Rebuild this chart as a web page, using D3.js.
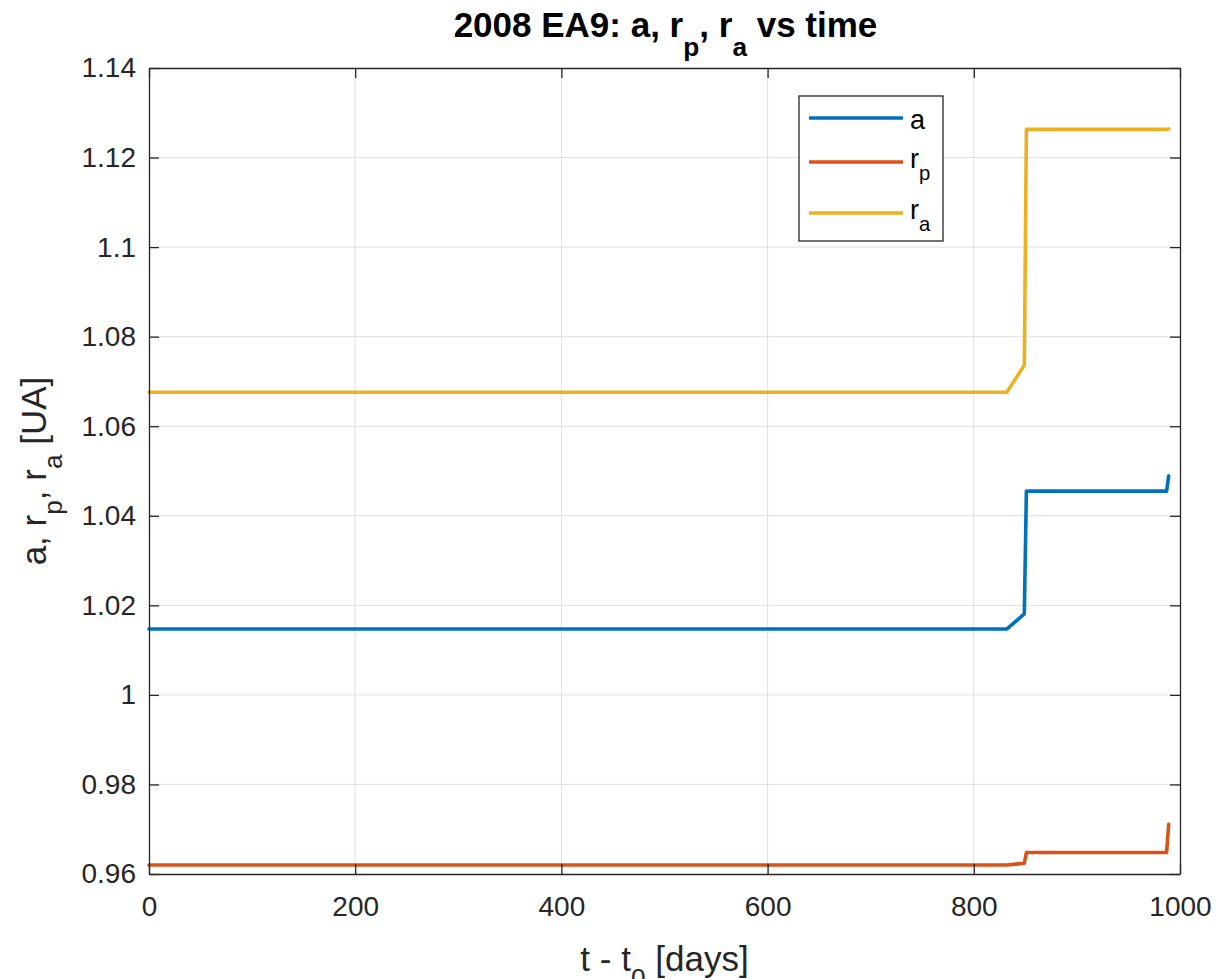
<!DOCTYPE html>
<html>
<head>
<meta charset="utf-8">
<script src="https://cdn.jsdelivr.net/npm/d3@7"></script>
<style>
  body { margin: 0; background: #fff; }
  svg text { font-family: "Liberation Sans", Arial, sans-serif; }
</style>
</head>
<body>
<div id="chart"></div>
<script>
const width = 1225;
const height = 979;

// time samples (days since t0) shared by the three curves
const tDays = [0, 832, 849, 851, 987, 989];
// semi-major axis, perihelion, aphelion [UA]
const aVals  = [1.0147, 1.0147, 1.0181, 1.0455, 1.0455, 1.0489];
const rpVals = [0.9620, 0.9620, 0.9624, 0.9648, 0.9648, 0.9711];
const raVals = [1.0676, 1.0676, 1.0736, 1.1263, 1.1263, 1.1264];

const seriesNames = ["a", "r", "r"];
const seriesSubs = ["", "p", "a"];
const seriesColors = ["#0072BD", "#D95319", "#EDB120"];

const xTicks = [0, 200, 400, 600, 800, 1000];
const yTicks = [0.96, 0.98, 1, 1.02, 1.04, 1.06, 1.08, 1.1, 1.12, 1.14];

const margin = { left: 149, right: 1180, top: 68, bottom: 874 };

let svg = d3.select("#chart").append("svg")
    .attr("width", width)
    .attr("height", height);

let x = d3.scaleLinear().domain([0, 1000]).range([margin.left, margin.right]);
let y = d3.scaleLinear().domain([0.96, 1.14]).range([margin.bottom, margin.top]);

// grid
let grid = svg.append("g");
grid.selectAll(".gx").data(xTicks.slice(1, -1)).enter().append("line")
    .attr("x1", d => x(d)).attr("x2", d => x(d))
    .attr("y1", margin.top).attr("y2", margin.bottom)
    .attr("stroke", "#dfdfdf").attr("stroke-width", 1);
grid.selectAll(".gy").data(yTicks.slice(1, -1)).enter().append("line")
    .attr("x1", margin.left).attr("x2", margin.right)
    .attr("y1", d => y(d)).attr("y2", d => y(d))
    .attr("stroke", "#dfdfdf").attr("stroke-width", 1);

// curves
let line = d3.line().x(d => x(d[0])).y(d => y(d[1]));
[aVals, rpVals, raVals].forEach(function (vals, i) {
    svg.append("path")
        .datum(tDays.map((t, k) => [t, vals[k]]))
        .attr("d", line)
        .attr("fill", "none")
        .attr("stroke", seriesColors[i])
        .attr("stroke-width", 3.6)
        .attr("stroke-linejoin", "round")
        .attr("stroke-linecap", "round");
});

// axes (MATLAB style: ticks inward, box on)
let tickLen = 10;
let xAxisB = d3.axisBottom(x).tickValues(xTicks).tickSizeInner(-tickLen).tickSizeOuter(0).tickPadding(22)
    .tickFormat(d3.format("d"));
let xAxisT = d3.axisTop(x).tickValues(xTicks).tickSizeInner(-tickLen).tickSizeOuter(0).tickFormat("");
let yAxisL = d3.axisLeft(y).tickValues(yTicks).tickSizeInner(-tickLen).tickSizeOuter(0).tickPadding(13)
    .tickFormat(d => String(+d.toFixed(2)));
let yAxisR = d3.axisRight(y).tickValues(yTicks).tickSizeInner(-tickLen).tickSizeOuter(0).tickFormat("");

function styleAxis(g) {
    g.select(".domain").attr("stroke", "#262626").attr("stroke-width", 1.3);
    g.selectAll(".tick line").attr("stroke", "#262626").attr("stroke-width", 1.3);
    g.selectAll(".tick text").attr("font-size", 28).attr("fill", "#262626")
        .attr("font-family", "Liberation Sans, Arial, sans-serif");
}

svg.append("g").attr("transform", `translate(0,${margin.bottom})`).call(xAxisB).call(styleAxis);
svg.append("g").attr("transform", `translate(0,${margin.top})`).call(xAxisT).call(styleAxis);
svg.append("g").attr("transform", `translate(${margin.left},0)`).call(yAxisL).call(styleAxis);
svg.append("g").attr("transform", `translate(${margin.right},0)`).call(yAxisR).call(styleAxis);

// text with TeX-like subscripts: the tspan after a subscript moves back up
function addSub(textSel, parts, size, shift) {
    let back = 0;
    parts.forEach(function (p) {
        let ts = textSel.append("tspan").text(p.t);
        if (p.sub) {
            ts.attr("font-size", size * 0.75).attr("dy", size * shift + back);
            back = -size * shift;
        } else {
            if (back) ts.attr("dy", back);
            back = 0;
        }
    });
}

// title
let title = svg.append("text")
    .attr("x", (margin.left + margin.right) / 2 + 1)
    .attr("y", 37)
    .attr("text-anchor", "middle")
    .attr("font-size", 35)
    .attr("font-weight", "bold")
    .attr("fill", "#000");
addSub(title, [{t: "2008 EA9: a, r"}, {t: "p", sub: true}, {t: ", r"}, {t: "a", sub: true}, {t: " vs time"}], 35, 0.55);

// x label
let xLabel = svg.append("text")
    .attr("x", (margin.left + margin.right) / 2)
    .attr("y", 971)
    .attr("text-anchor", "middle")
    .attr("font-size", 35)
    .attr("fill", "#262626");
addSub(xLabel, [{t: "t - t"}, {t: "0", sub: true}, {t: " [days]"}], 35, 0.45);

// y label
let yLabel = svg.append("text")
    .attr("transform", `translate(46,${(margin.top + margin.bottom) / 2}) rotate(-90)`)
    .attr("text-anchor", "middle")
    .attr("font-size", 35)
    .attr("fill", "#262626");
addSub(yLabel, [{t: "a, r"}, {t: "p", sub: true}, {t: ", r"}, {t: "a", sub: true}, {t: " [UA]"}], 35, 0.45);

// legend
let legend = svg.append("g");
legend.append("rect")
    .attr("x", 799).attr("y", 96).attr("width", 144).attr("height", 145)
    .attr("fill", "#fff").attr("stroke", "#262626").attr("stroke-width", 1.3);
let legendRows = [118, 162, 213];
seriesNames.forEach(function (name, i) {
    legend.append("line")
        .attr("x1", 809).attr("x2", 903)
        .attr("y1", legendRows[i]).attr("y2", legendRows[i])
        .attr("stroke", seriesColors[i]).attr("stroke-width", 3.6);
    let t = legend.append("text")
        .attr("x", 910).attr("y", legendRows[i] + (seriesSubs[i] ? 6 : 11))
        .attr("font-size", 27).attr("fill", "#000");
    let parts = [{t: name}];
    if (seriesSubs[i]) parts.push({t: seriesSubs[i], sub: true});
    addSub(t, parts, 27, 0.45);
});
</script>
</body>
</html>
